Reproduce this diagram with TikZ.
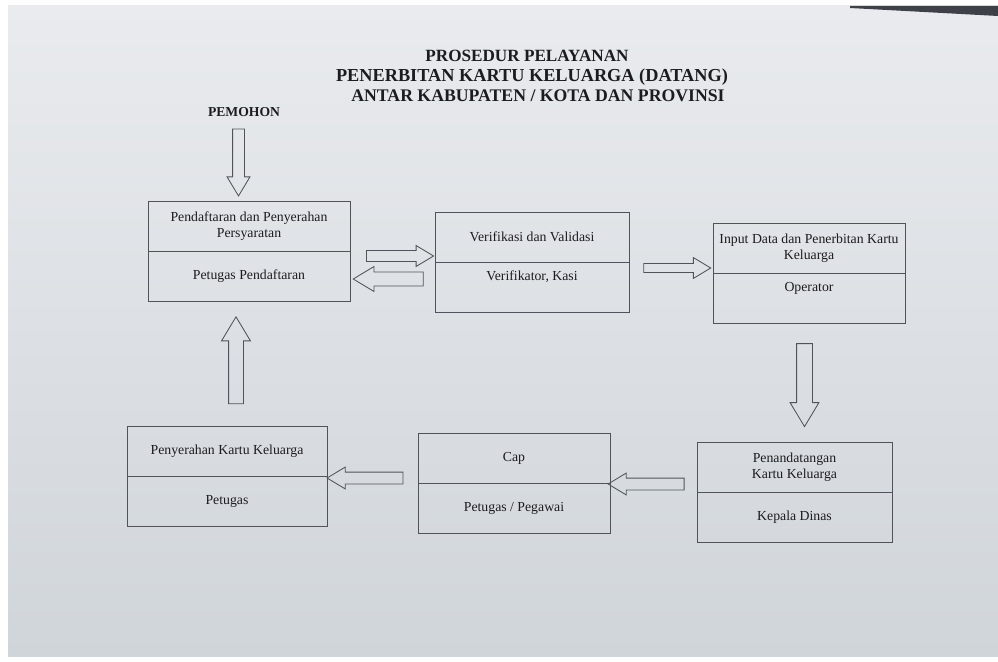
\documentclass[tikz,border=0pt]{standalone}
\usepackage{fontspec}
\setmainfont{Liberation Serif}
\usepackage{tikz}
\usetikzlibrary{positioning}
\usetikzlibrary{calc}
\usetikzlibrary{shapes.arrows}
\definecolor{garis}{RGB}{80,84,90}
\definecolor{tinta}{RGB}{28,28,32}
\definecolor{kertasatas}{RGB}{233,235,238}
\definecolor{kertasbawah}{RGB}{208,213,218}
\definecolor{tepi}{RGB}{62,66,72}
\tikzset{
  judul/.style={anchor=base, text=tinta, font=\fontsize{#1}{15}\selectfont\bfseries},
  kotak/.style={draw=garis, line width=0.6pt, text=tinta, outer sep=0pt,
    minimum width=#1, minimum height=1.25cm, inner sep=3pt, align=center,
    font=\fontsize{9.8}{11.7}\selectfont},
  atas/.style={text height=10pt, text depth=19pt},
  blok/.style={single arrow, draw=garis, line width=0.6pt, inner xsep=0pt,
    single arrow tip angle=62, single arrow head indent=0pt}
}
\newcommand{\panah}[4]{%
  \path let \p1=(#3), \p2=(#4), \n1={atan2(\y2-\y1,\x2-\x1)},
    \n2={veclen(\x2-\x1,\y2-\y1)} in
    node[blok, inner ysep=#1, single arrow head extend=#2, minimum height=\n2,
      rotate=\n1] at ($(\p1)!.5!(\p2)$) {};}

\begin{document}
\begin{tikzpicture}[x=0.025cm,y=-0.025cm]
  \useasboundingbox (0,0) rectangle (998,662);
  \fill[white] (0,0) rectangle (998,662);
  \shade[top color=kertasatas, bottom color=kertasbawah] (8,6) rectangle (998,656);
  \fill[tepi] (850,6) -- (998,6) -- (998,16) -- (850,8) -- cycle;

  \node[judul=12.2] (judul1) at (527,62) {PROSEDUR PELAYANAN};
  \node[judul=13] (judul2) at (532,82) {PENERBITAN KARTU KELUARGA (DATANG)};
  \node[judul=12.6] (judul3) at (538,102) {ANTAR KABUPATEN / KOTA DAN PROVINSI};
  \node[anchor=base, text=tinta, font=\fontsize{9.7}{12}\selectfont\bfseries]
    (pemohon) at (244,117) {PEMOHON};

  \node[kotak=5.05cm, anchor=north] (daftar) at (249,201)
    {Pendaftaran dan Penyerahan\\Persyaratan};
  \node[kotak=5.05cm, below=0pt of daftar] (daftar-p) {Petugas Pendaftaran};

  \node[kotak=4.85cm, anchor=north] (verif) at (532,212) {Verifikasi dan Validasi};
  \node[kotak=4.85cm, atas, below=0pt of verif] (verif-p) {Verifikator, Kasi};

  \node[kotak=4.8cm, anchor=north] (input) at (809,223)
    {Input Data dan Penerbitan Kartu\\Keluarga};
  \node[kotak=4.8cm, atas, below=0pt of input] (input-p) {Operator};

  \node[kotak=4.875cm, anchor=north] (ttd) at (794.5,442)
    {Penandatangan\\Kartu Keluarga};
  \node[kotak=4.875cm, below=0pt of ttd] (ttd-p) {Kepala Dinas};

  \node[kotak=4.8cm, anchor=north] (cap) at (514,433) {Cap};
  \node[kotak=4.8cm, below=0pt of cap] (cap-p) {Petugas / Pegawai};

  \node[kotak=5cm, anchor=north] (serah) at (227,426) {Penyerahan Kartu Keluarga};
  \node[kotak=5cm, below=0pt of serah] (serah-p) {Petugas};

  \coordinate (m0) at (238.5,124);  \coordinate (m1) at (238.5,191);
  \coordinate (d0) at (362,256);    \coordinate (d1) at (429,256);
  \coordinate (v0) at (429,279);    \coordinate (v1) at (359,279);
  \coordinate (i0) at (640,268);    \coordinate (i1) at (707,268);
  \coordinate (t0) at (804.5,337);  \coordinate (t1) at (804.5,420);
  \coordinate (c0) at (689,484);    \coordinate (c1) at (613,484);
  \coordinate (s0) at (408,478);    \coordinate (s1) at (332,478);
  \coordinate (k0) at (236,410);    \coordinate (k1) at (236,323);

  \panah{0.1375cm}{0.1375cm}{m0}{m1}
  \panah{0.125cm}{0.125cm}{d0}{d1}
  \panah{0.1625cm}{0.1375cm}{v0}{v1}
  \panah{0.1cm}{0.15cm}{i0}{i1}
  \panah{0.1875cm}{0.1625cm}{t0}{t1}
  \panah{0.1375cm}{0.125cm}{c0}{c1}
  \panah{0.1375cm}{0.125cm}{s0}{s1}
  \panah{0.175cm}{0.175cm}{k0}{k1}
\end{tikzpicture}
\end{document}
